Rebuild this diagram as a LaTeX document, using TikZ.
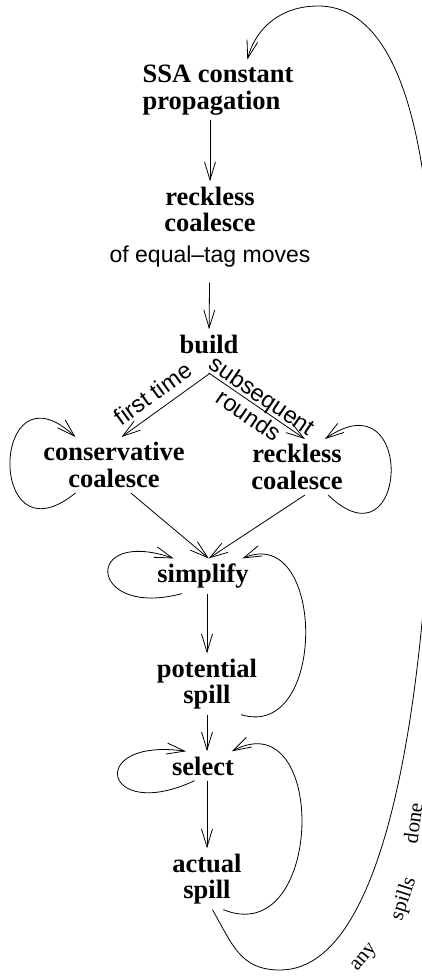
\documentclass[tikz,border=0pt]{standalone}
\usepackage{fontspec}
\setmainfont{Liberation Serif}
\setsansfont{Liberation Sans}
\usepackage{tikz}
\usetikzlibrary{arrows.meta}

\begin{document}
\begin{tikzpicture}[x=1pt, y=1pt, line width=0.8pt,
    >={Straight Barb[length=18pt, width=11pt]},
    bnode/.style={font=\bfseries\fontsize{26.5}{26.5}\selectfont, align=center, inner sep=5pt},
    lbl/.style={font=\sffamily\fontsize{23.5}{24}\selectfont, inner sep=3pt},
    slbl/.style={font=\fontsize{21}{21}\selectfont, inner sep=0pt}]
    \useasboundingbox (0, 0) rectangle (422, -976);

    \node[bnode, align=left] (v1) at (218, -90) {SSA constant\\propagation};
    \node[bnode] (v2) at (210, -227) {reckless\\coalesce\\[4.5pt]{\normalfont\sffamily\fontsize{23}{23}\selectfont of equal--tag moves}};
    \node[bnode] (v3) at (209, -344) {build};
    \node[bnode] (v4) at (114, -465) {conservative\\coalesce};
    \node[bnode] (v5) at (297, -467) {reckless\\coalesce};
    \node[bnode] (v6) at (203, -576) {simplify};
    \node[bnode] (v7) at (207, -684) {potential\\spill};
    \node[bnode] (v8) at (203, -766) {select};
    \node[bnode] (v9) at (207, -879) {actual\\spill};

    \path[->] (v1.south -| v2) edge (v2);
    \path[->] (v2) edge[shorten <=10pt] (v3);
    \path[->] (v3.-35) edge[shorten <=25pt] node[lbl, pos=0.62, above=5pt, sloped] {first time} (v4.75);
    \path[->] (v3.215) edge[shorten <=25pt] node[lbl, align=center, pos=0.58, sloped] {subsequent\\rounds} (v5.74);
    \path[->] (v4.216) edge[out=219, in=137, looseness=5.3] (v4.144);
    \path[->] (v5.-42) edge[out=-44, in=35, looseness=5.1] (v5.45);
    \path[->] (v4.-59) edge (v6.72);
    \path[->] (v5.-74) edge (v6.72);
    \path[->] (v6.220) edge[out=195, in=161, looseness=6.9] (v6.149);
    \path[->] (v6.south -| v7) edge (v7);
    \path[->] (v7.-42) edge[out=-17, in=23, looseness=1.48] (v6.24);
    \path[->] (v7) edge (v8.north -| v7);
    \path[->] (v8.240) edge[out=205, in=172, looseness=8.5] (v8.139);
    \path[->] (v8.south -| v9) edge (v9);
    \path[->] (v9.-62) edge[out=-22, in=28, looseness=1.76] (v8.27);

    % back to the top
    \draw[->] (v9.-80) .. controls +(-60:40) and +(180:40) .. (280, -970)
        .. controls +(0:120) and +(-90:280) .. (434, -350)
        .. controls +(90:230) and +(0:75) .. (318, -6)
        .. controls +(180:35) and +(75:35) .. (v1.46);
    \node[slbl, rotate=50] (l1) at (365, -958) {any};
    \node[slbl, rotate=72] (l2) at (404, -899) {spills};
    \node[slbl, rotate=82] (l3) at (413, -823) {done};
\end{tikzpicture}
\end{document}
